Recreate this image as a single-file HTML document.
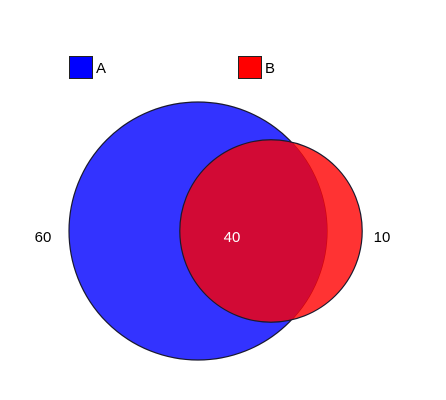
<!DOCTYPE html>
<html><head><meta charset="utf-8"><style>
html,body{margin:0;padding:0;background:#fff;}
svg{display:block;font-family:"Liberation Sans","DejaVu Sans",sans-serif;}
</style></head><body>
<svg id="chart" width="446" height="400" viewBox="0 0 446 400"></svg>
<script>
const setLabels = ["A", "B"];
const onlyCounts = [60, 10];
const overlapCount = [40];
const setColors = ["#0000ff", "#ff0000"];

const NS = "http://www.w3.org/2000/svg";
const svg = document.getElementById("chart");
function mk(tag, attrs, parent){const e=document.createElementNS(NS,tag);for(const k in attrs)e.setAttribute(k,attrs[k]);(parent||svg).appendChild(e);return e;}

const sizeA = onlyCounts[0] + overlapCount[0];
const sizeB = onlyCounts[1] + overlapCount[0];
const k = 12.9;
const rA = k * Math.sqrt(sizeA), rB = k * Math.sqrt(sizeB);
const cy = 231, cxA = 198, cxB = cxA + 73;

const defs = mk("defs", {});
const cp = mk("clipPath", {id: "clipA"}, defs);
mk("circle", {cx: cxA, cy: cy, r: rA}, cp);

const cA = mk("circle", {cx: cxA, cy: cy, r: rA, fill: setColors[0], "fill-opacity": 0.8, stroke: "#1a1a2e", "stroke-width": 1.2});


const cB = mk("circle", {cx: cxB, cy: cy, r: rB, fill: setColors[1], "fill-opacity": 0.8, stroke: "none"});


const ov = mk("circle", {cx: cxB, cy: cy, r: rB, fill: "#d20a35", "clip-path": "url(#clipA)"});


const cBo = mk("circle", {cx: cxB, cy: cy, r: rB, fill: "none", stroke: "#1a1a2e", "stroke-width": 1.2});



function label(x, txt, fill, name){
  const t = mk("text", {x: x, y: cy + 11, "font-size": 15, "text-anchor": "middle", fill: fill});
  t.textContent = txt;
  
  
}
label(43, onlyCounts[0], "#000", "label-a-only");
label(232, overlapCount[0], "#fff", "label-overlap");
label(382, onlyCounts[1], "#000", "label-b-only");

const legendX = [69, 238];
setLabels.forEach((s, i) => {
  const r = mk("rect", {x: legendX[i] + 0.5, y: 56.5, width: 23, height: 22, fill: setColors[i], stroke: "#222", "stroke-width": 1});
  
  
  const t = mk("text", {x: legendX[i] + 27, y: 73, "font-size": 15, fill: "#000"});
  t.textContent = s;
  
  
});
</script>
</body></html>
